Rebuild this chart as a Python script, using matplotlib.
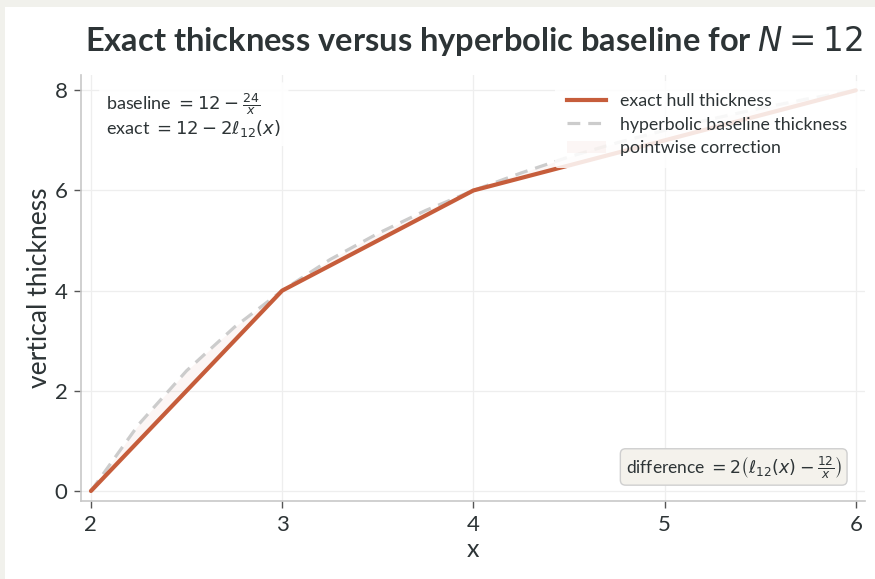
import matplotlib
matplotlib.use("Agg")
import matplotlib.pyplot as plt
from matplotlib.patches import Rectangle, Patch
from matplotlib.lines import Line2D

plt.rcParams['font.family'] = ['Lato', 'DejaVu Sans']
plt.rcParams['mathtext.fontset'] = 'dejavusans'

# sample grid
x_vals = [2.0, 2.25, 2.5, 2.75, 3.0, 3.25, 3.5, 3.75, 4.0,
          4.25, 4.5, 4.75, 5.0, 5.25, 5.5, 5.75, 6.0]
baseline = [0.0, 1.33, 2.4, 3.27, 4.0, 4.62, 5.14, 5.6, 6.0,
            6.35, 6.67, 6.95, 7.2, 7.43, 7.64, 7.83, 8.0]
exact = [0.0, 1.0, 2.0, 3.0, 4.0, 4.5, 5.0, 5.5, 6.0,
         6.25, 6.5, 6.75, 7.0, 7.25, 7.5, 7.75, 8.0]

x_ticks = [2, 3, 4, 5, 6]
y_ticks = [0, 2, 4, 6, 8]

TEXT = '#2d3436'
RUST = '#c65d3b'
DASH = '#cccccc'

fig = plt.figure(figsize=(8.75, 5.79), dpi=100, facecolor='white')
# light frame strip on the left and top edges
fig.patches.append(Rectangle((0, 0), 5 / 875, 1, transform=fig.transFigure,
                             facecolor='#f1f1ec', edgecolor='none', zorder=-1))
fig.patches.append(Rectangle((0, 1 - 7 / 579), 1, 7 / 579, transform=fig.transFigure,
                             facecolor='#f1f1ec', edgecolor='none', zorder=-1))

ax = fig.add_axes([0.093, 0.1347, 0.896, 0.7353])
ax.set_facecolor('white')

ax.fill_between(x_vals, exact, baseline, color=RUST, alpha=0.05, linewidth=0)
ax.plot(x_vals, baseline, color=DASH, linewidth=2.3, linestyle=(0, (4, 2.5)))
ax.plot(x_vals, exact, color=RUST, linewidth=3, solid_capstyle='round')

ax.set_xlim(1.95, 6.05)
ax.set_ylim(-0.2, 8.3)
ax.set_xticks(x_ticks)
ax.set_yticks(y_ticks)
ax.grid(True, color='#eeeeee', linewidth=0.9)
ax.set_axisbelow(True)
for s in ['top', 'right']:
    ax.spines[s].set_visible(False)
for s in ['left', 'bottom']:
    ax.spines[s].set_color('#c8c8c8')
    ax.spines[s].set_linewidth(1.2)
ax.tick_params(axis='both', labelsize=16, colors='#555555', labelcolor=TEXT,
               length=5, width=1, pad=5)

ax.set_xlabel('x', fontsize=18, color=TEXT, labelpad=2)
ax.set_ylabel('vertical thickness', fontsize=19, color=TEXT, labelpad=2)

fig.text(0.542, 0.93, r'Exact thickness versus hyperbolic baseline for $N = 12$',
         ha='center', va='center', fontsize=23.5, fontweight='bold', color=TEXT)

handles = [Line2D([], [], color=RUST, linewidth=3),
           Line2D([], [], color=DASH, linewidth=2.3, linestyle=(0, (4, 2.5))),
           Patch(facecolor=RUST, alpha=0.05, edgecolor='none')]
labels = ['exact hull thickness', 'hyperbolic baseline thickness', 'pointwise correction']
leg = ax.legend(handles, labels, loc='upper right', fontsize=12.8, frameon=True,
                framealpha=0.85, facecolor='white', edgecolor='none',
                borderaxespad=0.3, borderpad=0.7, handlelength=2.2,
                handletextpad=0.8, labelspacing=0.42)
for t in leg.get_texts():
    t.set_color(TEXT)

ax.text(0.032, 0.962, 'baseline $= 12 - \\frac{24}{x}$\nexact $= 12 - 2\\ell_{12}(x)$',
        transform=ax.transAxes, ha='left', va='top', fontsize=13, color=TEXT,
        linespacing=1.05,
        bbox=dict(boxstyle='round,pad=0.4', facecolor='white', edgecolor='none',
                  alpha=0.9))

ax.text(0.97, 0.08, r'difference $= 2\left(\ell_{12}(x) - \frac{12}{x}\right)$',
        transform=ax.transAxes, ha='right', va='center', fontsize=12.5, color=TEXT,
        bbox=dict(boxstyle='round,pad=0.3', facecolor='#f4f2ec', edgecolor='#cfcfcf'))

fig.savefig('out.png', dpi=100, facecolor=fig.get_facecolor())
